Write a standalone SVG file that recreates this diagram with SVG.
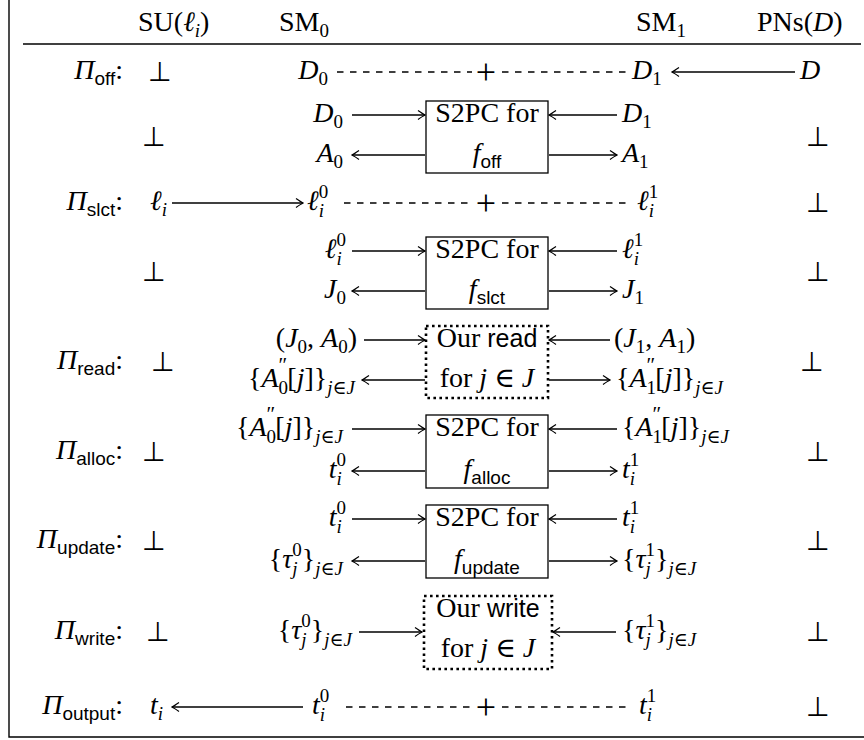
<svg xmlns="http://www.w3.org/2000/svg" width="864" height="740" viewBox="0 0 864 740">
<style>
.ln{stroke:#000;stroke-width:1.4;fill:none}
.a{marker-end:url(#ah)}
.d{stroke-dasharray:6.5 6.5}
.box{fill:none;stroke:#000;stroke-width:1.3}
.dot{fill:none;stroke:#000;stroke-width:2.6;stroke-dasharray:2.6 3.4}
.t{font-family:"Liberation Serif","DejaVu Serif",serif;font-size:28px;fill:#000}
.i{font-style:italic}
.s{font-size:19px}
.pr{font-size:21px;font-style:normal}
.sf{font-family:"Liberation Sans","DejaVu Sans",sans-serif;font-size:19px;font-style:normal}
.sfl{font-family:"Liberation Sans","DejaVu Sans",sans-serif;font-size:25px;font-style:normal}
.bot{font-family:"DejaVu Sans",sans-serif;font-size:27px;text-anchor:middle;font-weight:200}
.m{text-anchor:middle}
.e{text-anchor:end}
.pl{font-size:36px;text-anchor:middle}
</style>
<defs>
<marker id="ah" viewBox="-9 -6 10 12" refX="0" refY="0" markerWidth="10" markerHeight="12" markerUnits="userSpaceOnUse" orient="auto">
<path d="M-7,-4.5 Q-2,-1 0,0 Q-2,1 -7,4.5" fill="none" stroke="#000" stroke-width="1.2"/>
</marker>
</defs>
<rect width="864" height="740" fill="#fff"/>
<g id="frame">
<path class="ln" d="M9,0 V737 H864" stroke-width="1.6"/>
<path class="ln" d="M23,44 H861" stroke-width="1.3"/>
</g>
<g id="header">
<text class="t" x="138" y="31">SU(<tspan class="i">ℓ</tspan><tspan class="i s" dy="6">i</tspan><tspan dy="-6">)</tspan></text>
<text class="t" x="279" y="31">SM<tspan class="s" dy="6">0</tspan></text>
<text class="t" x="636" y="31">SM<tspan class="s" dy="6">1</tspan></text>
<text class="t" x="757" y="31">PNs(<tspan class="i">D</tspan>)</text>
</g>
<g id="labels">
<text class="t e" x="123" y="79"><tspan class="i">Π</tspan><tspan class="sf" dy="6">off</tspan><tspan dy="-6">:</tspan></text>
<text class="t e" x="123" y="210"><tspan class="i">Π</tspan><tspan class="sf" dy="6">slct</tspan><tspan dy="-6">:</tspan></text>
<text class="t e" x="123" y="369"><tspan class="i">Π</tspan><tspan class="sf" dy="6">read</tspan><tspan dy="-6">:</tspan></text>
<text class="t e" x="123" y="459"><tspan class="i">Π</tspan><tspan class="sf" dy="6">alloc</tspan><tspan dy="-6">:</tspan></text>
<text class="t e" x="123" y="548"><tspan class="i">Π</tspan><tspan class="sf" dy="6">update</tspan><tspan dy="-6">:</tspan></text>
<text class="t e" x="123" y="639"><tspan class="i">Π</tspan><tspan class="sf" dy="6">write</tspan><tspan dy="-6">:</tspan></text>
<text class="t e" x="123" y="714"><tspan class="i">Π</tspan><tspan class="sf" dy="6">output</tspan><tspan dy="-6">:</tspan></text>
</g>
<g id="su-column">
<text class="bot" x="160" y="81">⊥</text>
<text class="bot" x="154" y="146">⊥</text>
<text class="t" x="150" y="210"><tspan class="i">ℓ</tspan><tspan class="i s" dy="6">i</tspan></text>
<text class="bot" x="154" y="281">⊥</text>
<text class="bot" x="163" y="371">⊥</text>
<text class="bot" x="154" y="461">⊥</text>
<text class="bot" x="154" y="550">⊥</text>
<text class="bot" x="158" y="641">⊥</text>
<text class="t" x="150" y="714"><tspan class="i">t</tspan><tspan class="i s" dy="6">i</tspan></text>
</g>
<g id="pn-column">
<text class="t i" x="800" y="79">D</text>
<text class="bot" x="818" y="146">⊥</text>
<text class="bot" x="818" y="212">⊥</text>
<text class="bot" x="818" y="281">⊥</text>
<text class="bot" x="812" y="371">⊥</text>
<text class="bot" x="818" y="461">⊥</text>
<text class="bot" x="818" y="550">⊥</text>
<text class="bot" x="818" y="641">⊥</text>
<text class="bot" x="818" y="716">⊥</text>
</g>
<g id="row-off">
<text class="t e" x="328" y="79"><tspan class="i">D</tspan><tspan class="s" dy="6">0</tspan></text>
<text class="t pl" x="486" y="84">+</text>
<text class="t" x="632" y="79"><tspan class="i">D</tspan><tspan class="s" dy="6">1</tspan></text>
</g>
<g id="box-off">
<rect class="box" x="426" y="101" width="122" height="72"/>
<text class="t m" x="487" y="122">S2PC for</text>
<text class="t m" x="487" y="162"><tspan class="i">f</tspan><tspan class="sf" dy="6">off</tspan></text>
<text class="t e" x="343" y="122"><tspan class="i">D</tspan><tspan class="s" dy="6">0</tspan></text>
<text class="t e" x="343" y="162"><tspan class="i">A</tspan><tspan class="s" dy="6">0</tspan></text>
<text class="t" x="622" y="122"><tspan class="i">D</tspan><tspan class="s" dy="6">1</tspan></text>
<text class="t" x="622" y="162"><tspan class="i">A</tspan><tspan class="s" dy="6">1</tspan></text>
</g>
<g id="row-slct">
<text class="t" x="307" y="210"><tspan class="i">ℓ</tspan><tspan class="i s" dy="7">i</tspan><tspan class="s" dx="-5.3" dy="-19">0</tspan></text>
<text class="t pl" x="486" y="215">+</text>
<text class="t" x="637" y="210"><tspan class="i">ℓ</tspan><tspan class="i s" dy="7">i</tspan><tspan class="s" dx="-5.3" dy="-19">1</tspan></text>
</g>
<g id="box-slct">
<rect class="box" x="426" y="237" width="122" height="72"/>
<text class="t m" x="487" y="258">S2PC for</text>
<text class="t m" x="487" y="298"><tspan class="i">f</tspan><tspan class="sf" dy="6">slct</tspan></text>
<text class="t e" x="346" y="258"><tspan class="i">ℓ</tspan><tspan class="i s" dy="7">i</tspan><tspan class="s" dx="-5.3" dy="-19">0</tspan></text>
<text class="t e" x="346" y="298"><tspan class="i">J</tspan><tspan class="s" dy="6">0</tspan></text>
<text class="t" x="622" y="258"><tspan class="i">ℓ</tspan><tspan class="i s" dy="7">i</tspan><tspan class="s" dx="-5.3" dy="-19">1</tspan></text>
<text class="t" x="622" y="298"><tspan class="i">J</tspan><tspan class="s" dy="6">1</tspan></text>
</g>
<g id="box-read">
<rect class="dot" x="426" y="326" width="122" height="72"/>
<text class="t m" x="487" y="347">Our <tspan class="sfl">read</tspan></text>
<text class="t m" x="487" y="387">for <tspan class="i">j</tspan> ∈ <tspan class="i">J</tspan></text>
<text class="t e" x="357" y="347">(<tspan class="i">J</tspan><tspan class="s" dy="6">0</tspan><tspan dy="-6">, </tspan><tspan class="i">A</tspan><tspan class="s" dy="6">0</tspan><tspan dy="-6">)</tspan></text>
<text class="t e" x="355" y="387">{<tspan class="i">A</tspan><tspan class="s" dy="7">0</tspan><tspan class="pr" dx="-9.5" dy="-22">″</tspan><tspan dy="15">[</tspan><tspan class="i">j</tspan><tspan>]}</tspan><tspan class="s i" dy="7">j</tspan><tspan class="s">∈</tspan><tspan class="s i">J</tspan></text>
<text class="t" x="614" y="347">(<tspan class="i">J</tspan><tspan class="s" dy="6">1</tspan><tspan dy="-6">, </tspan><tspan class="i">A</tspan><tspan class="s" dy="6">1</tspan><tspan dy="-6">)</tspan></text>
<text class="t" x="616" y="387">{<tspan class="i">A</tspan><tspan class="s" dy="7">1</tspan><tspan class="pr" dx="-9.5" dy="-22">″</tspan><tspan dy="15">[</tspan><tspan class="i">j</tspan><tspan>]}</tspan><tspan class="s i" dy="7">j</tspan><tspan class="s">∈</tspan><tspan class="s i">J</tspan></text>
</g>
<g id="box-alloc">
<rect class="box" x="426" y="415" width="122" height="73"/>
<text class="t m" x="487" y="436">S2PC for</text>
<text class="t m" x="487" y="478"><tspan class="i">f</tspan><tspan class="sf" dy="6">alloc</tspan></text>
<text class="t e" x="343" y="436">{<tspan class="i">A</tspan><tspan class="s" dy="7">0</tspan><tspan class="pr" dx="-9.5" dy="-22">″</tspan><tspan dy="15">[</tspan><tspan class="i">j</tspan><tspan>]}</tspan><tspan class="s i" dy="7">j</tspan><tspan class="s">∈</tspan><tspan class="s i">J</tspan></text>
<text class="t e" x="346" y="478"><tspan class="i">t</tspan><tspan class="i s" dy="7">i</tspan><tspan class="s" dx="-5.3" dy="-19">0</tspan></text>
<text class="t" x="622" y="436">{<tspan class="i">A</tspan><tspan class="s" dy="7">1</tspan><tspan class="pr" dx="-9.5" dy="-22">″</tspan><tspan dy="15">[</tspan><tspan class="i">j</tspan><tspan>]}</tspan><tspan class="s i" dy="7">j</tspan><tspan class="s">∈</tspan><tspan class="s i">J</tspan></text>
<text class="t" x="622" y="478"><tspan class="i">t</tspan><tspan class="i s" dy="7">i</tspan><tspan class="s" dx="-5.3" dy="-19">1</tspan></text>
</g>
<g id="box-update">
<rect class="box" x="426" y="505" width="122" height="73"/>
<text class="t m" x="487" y="526">S2PC for</text>
<text class="t m" x="487" y="568"><tspan class="i">f</tspan><tspan class="sf" dy="6">update</tspan></text>
<text class="t e" x="346" y="526"><tspan class="i">t</tspan><tspan class="i s" dy="7">i</tspan><tspan class="s" dx="-5.3" dy="-19">0</tspan></text>
<text class="t e" x="343" y="568">{<tspan class="i">τ</tspan><tspan class="i s" dy="7">j</tspan><tspan class="s" dx="-5.3" dy="-19">0</tspan><tspan dy="12">}</tspan><tspan class="s i" dy="7">j</tspan><tspan class="s">∈</tspan><tspan class="s i">J</tspan></text>
<text class="t" x="622" y="526"><tspan class="i">t</tspan><tspan class="i s" dy="7">i</tspan><tspan class="s" dx="-5.3" dy="-19">1</tspan></text>
<text class="t" x="622" y="568">{<tspan class="i">τ</tspan><tspan class="i s" dy="7">j</tspan><tspan class="s" dx="-5.3" dy="-19">1</tspan><tspan dy="12">}</tspan><tspan class="s i" dy="7">j</tspan><tspan class="s">∈</tspan><tspan class="s i">J</tspan></text>
</g>
<g id="box-write">
<rect class="dot" x="424" y="596" width="128" height="73"/>
<text class="t m" x="488" y="617">Our <tspan class="sfl">write</tspan></text>
<text class="t m" x="488" y="657">for <tspan class="i">j</tspan> ∈ <tspan class="i">J</tspan></text>
<text class="t e" x="352" y="639">{<tspan class="i">τ</tspan><tspan class="i s" dy="7">j</tspan><tspan class="s" dx="-5.3" dy="-19">0</tspan><tspan dy="12">}</tspan><tspan class="s i" dy="7">j</tspan><tspan class="s">∈</tspan><tspan class="s i">J</tspan></text>
<text class="t" x="622" y="639">{<tspan class="i">τ</tspan><tspan class="i s" dy="7">j</tspan><tspan class="s" dx="-5.3" dy="-19">1</tspan><tspan dy="12">}</tspan><tspan class="s i" dy="7">j</tspan><tspan class="s">∈</tspan><tspan class="s i">J</tspan></text>
</g>
<g id="row-output">
<text class="t" x="312" y="714"><tspan class="i">t</tspan><tspan class="i s" dy="7">i</tspan><tspan class="s" dx="-5.3" dy="-19">0</tspan></text>
<text class="t pl" x="486" y="719">+</text>
<text class="t" x="639" y="714"><tspan class="i">t</tspan><tspan class="i s" dy="7">i</tspan><tspan class="s" dx="-5.3" dy="-19">1</tspan></text>
</g>
<g id="connectors">
<path class="ln d" d="M337,72 H472 M502,72 H626"/>
<path class="ln a" d="M795,72 H672"/>
<path class="ln a" d="M352,115 H425"/>
<path class="ln a" d="M425,155 H352"/>
<path class="ln a" d="M617,115 H549"/>
<path class="ln a" d="M549,155 H617"/>
<path class="ln a" d="M172,203 H303"/>
<path class="ln d" d="M344,203 H471 M502,203 H628"/>
<path class="ln a" d="M352,251 H425"/>
<path class="ln a" d="M425,291 H352"/>
<path class="ln a" d="M617,251 H549"/>
<path class="ln a" d="M549,291 H617"/>
<path class="ln a" d="M364,340 H425"/>
<path class="ln a" d="M425,380 H362"/>
<path class="ln a" d="M610,340 H549"/>
<path class="ln a" d="M549,380 H610"/>
<path class="ln a" d="M352,429 H425"/>
<path class="ln a" d="M425,471 H352"/>
<path class="ln a" d="M617,429 H549"/>
<path class="ln a" d="M549,471 H617"/>
<path class="ln a" d="M352,519 H425"/>
<path class="ln a" d="M425,561 H352"/>
<path class="ln a" d="M617,519 H549"/>
<path class="ln a" d="M549,561 H617"/>
<path class="ln a" d="M359,632 H422"/>
<path class="ln a" d="M616,632 H553"/>
<path class="ln a" d="M303,707 H172"/>
<path class="ln d" d="M346,707 H474 M502,707 H628"/>
</g>
</svg>
